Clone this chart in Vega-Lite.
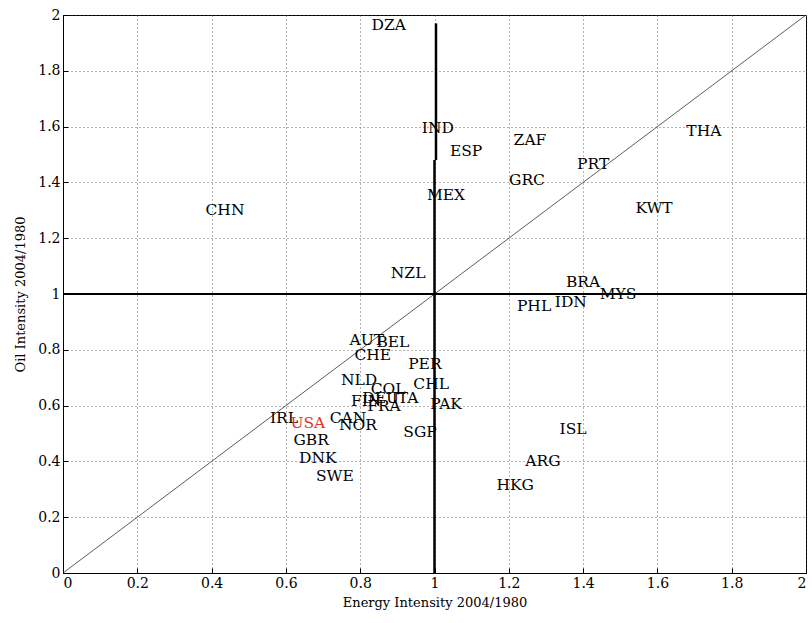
{
  "$schema": "https://vega.github.io/schema/vega-lite/v6.json",
  "width": 743,
  "height": 558,
  "autosize": {"type": "none"},
  "padding": {"left": 63, "top": 15, "right": 6, "bottom": 50},
  "background": "white",
  "config": {
    "view": {"stroke": "black", "strokeWidth": 1},
    "font": "DejaVu Serif",
    "axis": {
      "labelFont": "DejaVu Serif",
      "titleFont": "DejaVu Serif",
      "labelFontSize": 14,
      "titleFontSize": 13,
      "titleFontWeight": "normal",
      "labelColor": "black",
      "titleColor": "black",
      "domainColor": "black",
      "tickColor": "black",
      "gridColor": "#444444",
      "gridDash": [1, 3],
      "gridOpacity": 0.8,
      "tickSize": -5,
      "labelPadding": 8
    }
  },
  "datasets": {
    "countries": [
      {"code": "DZA", "energy": 0.877, "oil": 1.964, "hl": "no"},
      {"code": "IND", "energy": 1.009, "oil": 1.595, "hl": "no"},
      {"code": "ESP", "energy": 1.085, "oil": 1.513, "hl": "no"},
      {"code": "ZAF", "energy": 1.257, "oil": 1.552, "hl": "no"},
      {"code": "THA", "energy": 1.725, "oil": 1.584, "hl": "no"},
      {"code": "PRT", "energy": 1.427, "oil": 1.466, "hl": "no"},
      {"code": "GRC", "energy": 1.249, "oil": 1.409, "hl": "no"},
      {"code": "MEX", "energy": 1.031, "oil": 1.355, "hl": "no"},
      {"code": "CHN", "energy": 0.436, "oil": 1.301, "hl": "no"},
      {"code": "KWT", "energy": 1.591, "oil": 1.308, "hl": "no"},
      {"code": "NZL", "energy": 0.929, "oil": 1.075, "hl": "no"},
      {"code": "BRA", "energy": 1.400, "oil": 1.043, "hl": "no"},
      {"code": "MYS", "energy": 1.494, "oil": 1.0, "hl": "no"},
      {"code": "IDN", "energy": 1.367, "oil": 0.971, "hl": "no"},
      {"code": "PHL", "energy": 1.268, "oil": 0.957, "hl": "no"},
      {"code": "AUT", "energy": 0.818, "oil": 0.835, "hl": "no"},
      {"code": "BEL", "energy": 0.888, "oil": 0.828, "hl": "no"},
      {"code": "CHE", "energy": 0.834, "oil": 0.781, "hl": "no"},
      {"code": "PER", "energy": 0.974, "oil": 0.749, "hl": "no"},
      {"code": "NLD", "energy": 0.797, "oil": 0.692, "hl": "no"},
      {"code": "CHL", "energy": 0.991, "oil": 0.677, "hl": "no"},
      {"code": "COL", "energy": 0.875, "oil": 0.659, "hl": "no"},
      {"code": "DEU", "energy": 0.855, "oil": 0.627, "hl": "no"},
      {"code": "ITA", "energy": 0.921, "oil": 0.627, "hl": "no"},
      {"code": "FIN", "energy": 0.816, "oil": 0.616, "hl": "no"},
      {"code": "PAK", "energy": 1.031, "oil": 0.606, "hl": "no"},
      {"code": "FRA", "energy": 0.864, "oil": 0.599, "hl": "no"},
      {"code": "IRL", "energy": 0.595, "oil": 0.556, "hl": "no"},
      {"code": "USA", "energy": 0.659, "oil": 0.538, "hl": "yes"},
      {"code": "CAN", "energy": 0.767, "oil": 0.556, "hl": "no"},
      {"code": "NOR", "energy": 0.794, "oil": 0.530, "hl": "no"},
      {"code": "SGP", "energy": 0.961, "oil": 0.505, "hl": "no"},
      {"code": "ISL", "energy": 1.373, "oil": 0.516, "hl": "no"},
      {"code": "GBR", "energy": 0.668, "oil": 0.477, "hl": "no"},
      {"code": "DNK", "energy": 0.686, "oil": 0.412, "hl": "no"},
      {"code": "ARG", "energy": 1.292, "oil": 0.401, "hl": "no"},
      {"code": "SWE", "energy": 0.732, "oil": 0.348, "hl": "no"},
      {"code": "HKG", "energy": 1.217, "oil": 0.315, "hl": "no"}
    ],
    "diag": [{"x": 0, "y": 0}, {"x": 2, "y": 2}],
    "vrule": [{"x": 1.0, "y": 0, "y2": 1.48}, {"x": 1.004, "y": 1.48, "y2": 1.97}],
    "hrule": [{"x": 0, "x2": 2, "y": 1}]
  },
  "layer": [
    {
      "data": {"name": "diag"},
      "mark": {"type": "line", "color": "#333333", "strokeWidth": 0.8, "clip": true},
      "encoding": {
        "x": {"field": "x", "type": "quantitative", "scale": {"domain": [0, 2], "nice": false},
          "axis": {"title": "Energy Intensity 2004/1980", "values": [0, 0.2, 0.4, 0.6, 0.8, 1, 1.2, 1.4, 1.6, 1.8, 2], "grid": true, "format": "~g", "titlePadding": 6}},
        "y": {"field": "y", "type": "quantitative", "scale": {"domain": [0, 2], "nice": false},
          "axis": {"title": "Oil Intensity 2004/1980", "values": [0, 0.2, 0.4, 0.6, 0.8, 1, 1.2, 1.4, 1.6, 1.8, 2], "grid": true, "format": "~g", "titlePadding": 10}}
      }
    },
    {
      "data": {"name": "vrule"},
      "mark": {"type": "rule", "color": "black", "strokeWidth": 2.5},
      "encoding": {
        "x": {"field": "x", "type": "quantitative"},
        "y": {"field": "y", "type": "quantitative"},
        "y2": {"field": "y2"}
      }
    },
    {
      "data": {"name": "hrule"},
      "mark": {"type": "rule", "color": "black", "strokeWidth": 2},
      "encoding": {
        "x": {"field": "x", "type": "quantitative"},
        "x2": {"field": "x2"},
        "y": {"field": "y", "type": "quantitative"}
      }
    },
    {
      "data": {"name": "countries"},
      "mark": {"type": "text", "font": "DejaVu Serif", "fontSize": 15.5, "align": "center", "baseline": "middle"},
      "encoding": {
        "x": {"field": "energy", "type": "quantitative"},
        "y": {"field": "oil", "type": "quantitative"},
        "text": {"field": "code"},
        "color": {"field": "hl", "type": "nominal", "scale": {"domain": ["no", "yes"], "range": ["black", "#e8321e"]}, "legend": null}
      }
    }
  ]
}
